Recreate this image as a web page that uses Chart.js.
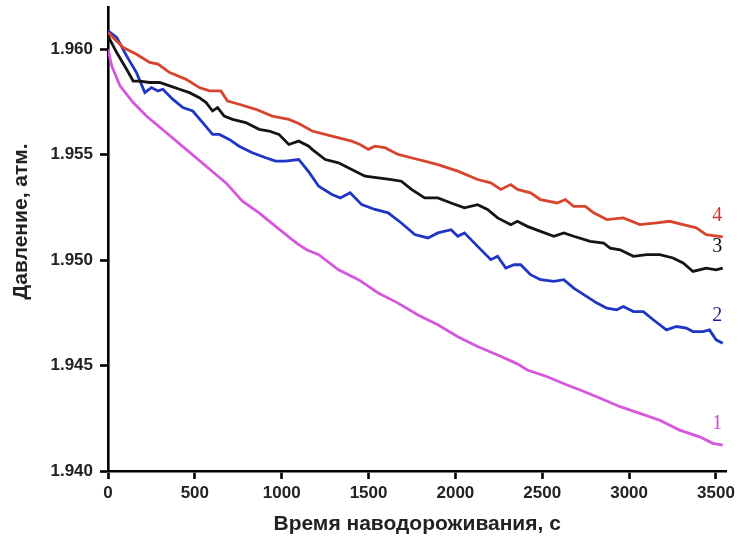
<!DOCTYPE html>
<html>
<head>
<meta charset="utf-8">
<script src="https://cdn.jsdelivr.net/npm/chart.js@4.4.1/dist/chart.umd.min.js"></script>
<style>
html,body{margin:0;padding:0;background:#fff;}
#wrap{width:739px;height:540px;}
</style>
</head>
<body>
<div id="wrap"><canvas id="c" width="739" height="540"></canvas></div>
<script>
// Curve 4 (red)
const t4 = [0,88,164,240,288,355,450,526,584,650,688,755,851,946,1041,1098,1175,1289,1403,1451,1499,1537,1594,1670,1785,1823,1899,2014,2128,2204,2261,2319,2357,2433,2490,2586,2633,2681,2748,2796,2872,2967,3062,3158,3234,3311,3387,3444,3539];
const p4 = [1.96079,1.96008,1.95976,1.95937,1.95929,1.95889,1.95857,1.95818,1.95802,1.95802,1.95754,1.95739,1.95715,1.95683,1.95667,1.95648,1.95612,1.95588,1.95564,1.95548,1.95525,1.95540,1.95533,1.95501,1.95477,1.95469,1.95453,1.95422,1.95382,1.95366,1.95335,1.95358,1.95335,1.95319,1.95287,1.95271,1.95287,1.95255,1.95255,1.95224,1.95192,1.95200,1.95168,1.95176,1.95184,1.95168,1.95153,1.95121,1.95110];
// Curve 3 (black)
const t3 = [0,50,107,145,183,240,297,355,412,469,526,565,602,631,669,717,793,870,927,984,1041,1098,1156,1175,1251,1327,1403,1480,1556,1632,1689,1747,1823,1899,1975,2052,2128,2185,2243,2319,2357,2414,2490,2567,2624,2681,2776,2853,2891,2948,3025,3101,3177,3253,3311,3368,3444,3501,3539];
const p3 = [1.96063,1.95984,1.95905,1.95849,1.95849,1.95842,1.95842,1.95826,1.95810,1.95794,1.95770,1.95747,1.95707,1.95723,1.95683,1.95667,1.95652,1.95620,1.95612,1.95596,1.95548,1.95564,1.95540,1.95525,1.95477,1.95461,1.95430,1.95398,1.95390,1.95382,1.95374,1.95335,1.95295,1.95295,1.95271,1.95248,1.95263,1.95240,1.95200,1.95168,1.95184,1.95160,1.95136,1.95113,1.95129,1.95113,1.95089,1.95081,1.95057,1.95049,1.95018,1.95026,1.95026,1.95010,1.94986,1.94946,1.94962,1.94954,1.94962];
// Curve 2 (blue)
const t2 = [0,50,107,164,212,250,288,316,374,431,488,545,602,641,698,755,831,908,965,1022,1098,1156,1213,1289,1337,1394,1461,1537,1613,1689,1766,1842,1899,1975,2014,2052,2128,2204,2243,2290,2338,2376,2433,2490,2567,2624,2681,2739,2815,2872,2929,2967,3025,3082,3139,3215,3273,3330,3368,3425,3463,3501,3539];
const p2 = [1.96087,1.96056,1.95968,1.95889,1.95794,1.95818,1.95802,1.95810,1.95762,1.95723,1.95707,1.95652,1.95596,1.95596,1.95572,1.95540,1.95509,1.95485,1.95469,1.95469,1.95477,1.95418,1.95350,1.95311,1.95295,1.95319,1.95263,1.95240,1.95224,1.95176,1.95121,1.95105,1.95129,1.95144,1.95113,1.95129,1.95065,1.95002,1.95018,1.94962,1.94978,1.94978,1.94931,1.94907,1.94899,1.94907,1.94867,1.94836,1.94796,1.94772,1.94764,1.94780,1.94756,1.94756,1.94717,1.94669,1.94685,1.94677,1.94661,1.94661,1.94669,1.94622,1.94606];
// Curve 1 (magenta)
const t1 = [0,21,69,145,221,336,450,565,679,774,870,965,1060,1098,1144,1213,1327,1442,1556,1670,1785,1899,2014,2128,2243,2357,2414,2529,2643,2719,2834,2948,3062,3177,3291,3406,3482,3539];
const p1 = [1.96000,1.95921,1.95826,1.95747,1.95683,1.95604,1.95525,1.95445,1.95366,1.95279,1.95224,1.95160,1.95097,1.95073,1.95049,1.95026,1.94954,1.94907,1.94844,1.94796,1.94740,1.94693,1.94637,1.94590,1.94550,1.94508,1.94479,1.94447,1.94408,1.94384,1.94345,1.94305,1.94273,1.94241,1.94194,1.94162,1.94131,1.94123];

const xTicks = [0,500,1000,1500,2000,2500,3000,3500];
const yTicks = [1.940,1.945,1.950,1.955,1.960];
const curveNames = ['1','2','3','4'];
const xTitle = 'Время наводороживания, с';
const yTitle = 'Давление, атм.';

function zip(t,p){ return t.map((x,i)=>({x:x,y:p[i]})); }

const labelAnchors = [
  {text:'4', x:3507, y:1.95211, color:'#d3322a'},
  {text:'3', x:3507, y:1.95064, color:'#111111'},
  {text:'2', x:3507, y:1.94736, color:'#1c1c9e'},
  {text:'1', x:3507, y:1.94222, color:'#cc4ccc'}
];

const curveLabels = {
  id:'curveLabels',
  afterDatasetsDraw(chart){
    const ctx = chart.ctx, xs = chart.scales.x, ys = chart.scales.y;
    ctx.save();
    ctx.font = '20px "Liberation Serif", "Times New Roman", serif';
    ctx.textAlign = 'center';
    ctx.textBaseline = 'middle';
    labelAnchors.forEach(a=>{
      ctx.fillStyle = a.color;
      ctx.fillText(a.text, xs.getPixelForValue(a.x), ys.getPixelForValue(a.y));
    });
    ctx.restore();
  }
};

const tickFont = {family:'"Liberation Sans", Arial, sans-serif', size:17, weight:'bold'};
const titleFont = {family:'"Liberation Sans", Arial, sans-serif', size:21, weight:'bold'};

new Chart(document.getElementById('c'), {
  type:'line',
  data:{
    datasets:[
      {label:curveNames[3], data:zip(t4,p4), borderColor:'#d8452e', borderWidth:2.8, pointRadius:0, tension:0, fill:false},
      {label:curveNames[2], data:zip(t3,p3), borderColor:'#141414', borderWidth:2.8, pointRadius:0, tension:0, fill:false},
      {label:curveNames[1], data:zip(t2,p2), borderColor:'#1f35c4', borderWidth:2.8, pointRadius:0, tension:0, fill:false},
      {label:curveNames[0], data:zip(t1,p1), borderColor:'#d457dc', borderWidth:2.8, pointRadius:0, tension:0, fill:false}
    ]
  },
  options:{
    responsive:false,
    animation:false,
    layout:{padding:{left:0,right:9,top:7,bottom:0}},
    plugins:{legend:{display:false}, tooltip:{enabled:false}},
    scales:{
      x:{
        type:'linear', min:0, max:3560,
        afterBuildTicks(s){ s.ticks = xTicks.map(v=>({value:v})); },
        afterFit(s){ s.height = 69; },
        border:{display:true, color:'#000', width:2.6},
        grid:{display:true, drawOnChartArea:false, drawTicks:true, tickLength:8, tickColor:'#000', tickWidth:2.6},
        ticks:{color:'#222', font:tickFont, padding:4, maxRotation:0, callback:(v)=>String(v)},
        title:{display:true, text:xTitle, color:'#222', font:titleFont, padding:{top:0,bottom:3}}
      },
      y:{
        type:'linear', min:1.940, max:1.962,
        afterBuildTicks(s){ s.ticks = yTicks.map(v=>({value:v})); },
        afterFit(s){ s.width = 108; s.paddingTop = 0; s.paddingBottom = 0; },
        border:{display:true, color:'#000', width:2.6},
        grid:{display:true, drawOnChartArea:false, drawTicks:true, tickLength:8, tickColor:'#000', tickWidth:2.6},
        ticks:{color:'#222', font:tickFont, padding:7, callback:(v)=>Number(v).toFixed(3)},
        title:{display:true, text:'\u00a0\u00a0\u00a0\u00a0\u00a0\u00a0' + yTitle, color:'#222', font:titleFont, padding:{top:9,bottom:0}}
      }
    }
  },
  plugins:[curveLabels]
});
</script>
</body>
</html>
